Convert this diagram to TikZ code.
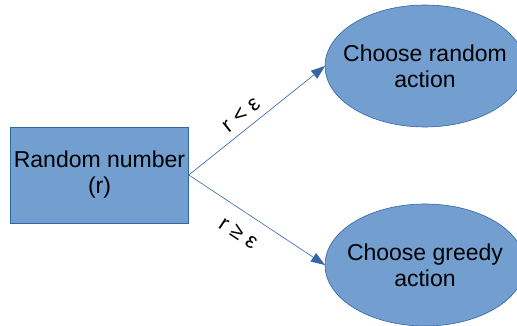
\documentclass[tikz,border=0pt]{standalone}
\usepackage{fontspec}
\setmainfont{Liberation Sans}
\usetikzlibrary{shapes.geometric, arrows.meta, positioning, calc}
\definecolor{boxfill}{HTML}{729FCF}
\definecolor{boxline}{HTML}{3465A4}

\begin{document}
\begin{tikzpicture}[x=1pt, y=1pt,
    source/.style={rectangle, draw=boxline, fill=boxfill, line width=0.6pt, minimum width=177pt, minimum height=96pt, align=center, font=\fontsize{23}{26}\selectfont},
    choice/.style={ellipse, draw=boxline, fill=boxfill, line width=0.6pt, minimum width=200pt, minimum height=122pt, inner xsep=-12pt, inner ysep=0pt, outer sep=0pt, align=center, font=\fontsize{23}{26}\selectfont},
    arrow/.style={-{Triangle[length=14pt, width=10pt]}, draw=boxline, line width=0.6pt},
    cond/.style={sloped, font=\fontsize{22}{24}\selectfont}]
    \useasboundingbox (0,0) rectangle (517,326);

    % Nodes
    \node [source] (random) at (99.5,151) {Random number\\(r)};
    \node [choice] (explore) at (425,260) {Choose random\\action};
    \node [choice] (greedy) at (425,61) {Choose greedy\\action};

    % Arrows
    \draw [arrow] (random.east) -- node[cond, above=4pt, pos=0.45] {r < ε} (explore.west);
    \draw [arrow] (random.east) -- node[cond, below=11pt, pos=0.45] {r ≥ ε} (greedy.west);

\end{tikzpicture}
\end{document}
